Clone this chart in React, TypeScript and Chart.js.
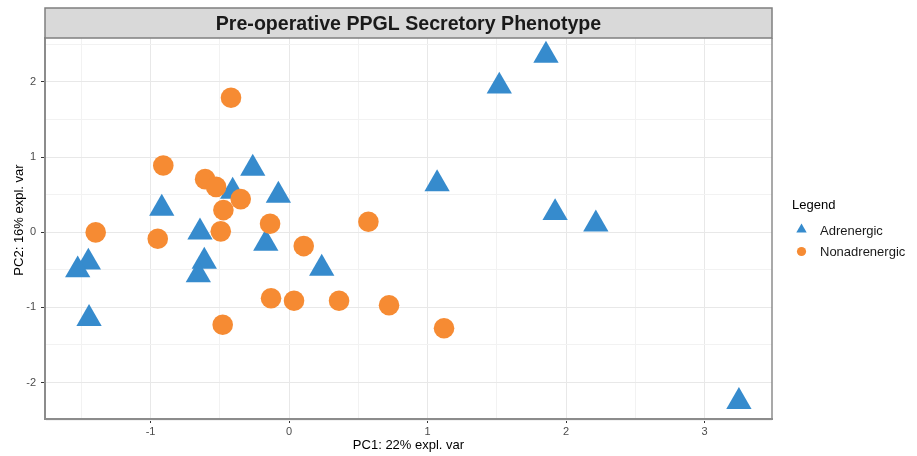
import React, { useEffect, useRef } from 'react';
import { Chart, registerables } from 'chart.js';

Chart.register(...registerables);

const titleText = 'Pre-operative PPGL Secretory Phenotype';
const xTitle = 'PC1: 22% expl. var';
const yTitle = 'PC2: 16% expl. var';
const legendTitle = 'Legend';
const seriesNames = ['Adrenergic', 'Nonadrenergic'];
const seriesColors = ['#368BCD', '#F68B33'];

const adrenergicPC1 = [1.855, 1.518, 1.069, 1.921, 2.215, 3.248, -0.262, -0.407, -0.077, -0.919, -0.643, -0.168, -0.612, -0.655, 0.236, -1.449, -1.526, -1.444];
const adrenergicPC2 = [2.353, 1.941, 0.642, 0.258, 0.107, -2.255, 0.848, 0.542, 0.489, 0.316, 0.001, -0.149, -0.388, -0.57, -0.481, -0.401, -0.503, -1.151];

const nonadrenergicPC1 = [-0.419, -0.908, -0.606, -0.527, -0.349, -0.474, -1.396, -0.948, -0.493, -0.137, 0.573, 0.106, -0.13, 0.036, 0.361, 0.722, -0.479, 1.119];
const nonadrenergicPC2 = [1.789, 0.888, 0.706, 0.603, 0.44, 0.294, -0.003, -0.088, 0.011, 0.112, 0.138, -0.185, -0.88, -0.912, -0.912, -0.973, -1.231, -1.279];

const xMajorTicks = [-1, 0, 1, 2, 3];
const xMinorTicks = [-1.5, -0.5, 0.5, 1.5, 2.5];
const yMajorTicks = [-2, -1, 0, 1, 2];
const yMinorTicks = [-2.5, -1.5, -0.5, 0.5, 1.5, 2.5];

const xRange = [-1.762, 3.487];
const yRange = [-2.486, 2.584];

const FONT = '"Liberation Sans", Arial, sans-serif';

const isMajor = (v: number, majors: number[]) => majors.some((m) => Math.abs(m - v) < 1e-9);

const decorPlugin = {
  id: 'decor',
  afterDraw(chart: any) {
    const { ctx, chartArea } = chart;
    const { left, right, top, bottom } = chartArea;
    ctx.save();
    // right border of panel
    ctx.strokeStyle = '#8C8C8C';
    ctx.lineWidth = 1.5;
    ctx.beginPath();
    ctx.moveTo(right, top);
    ctx.lineTo(right, bottom + 1);
    ctx.stroke();
    // strip
    const stripTop = 8;
    ctx.fillStyle = '#D9D9D9';
    ctx.fillRect(left, stripTop, right - left, top - stripTop);
    ctx.strokeStyle = '#7F7F7F';
    ctx.lineWidth = 1.5;
    ctx.strokeRect(left, stripTop, right - left, top - stripTop);
    ctx.fillStyle = '#1A1A1A';
    ctx.font = `bold 19.6px ${FONT}`;
    ctx.textAlign = 'center';
    ctx.textBaseline = 'middle';
    ctx.fillText(titleText, (left + right) / 2, (stripTop + top) / 2 + 1.5);

    // axis titles
    ctx.font = `13px ${FONT}`;
    ctx.fillStyle = '#000000';
    ctx.fillText(xTitle, (left + right) / 2, 445);
    ctx.save();
    ctx.translate(19.5, 220);
    ctx.rotate(-Math.PI / 2);
    ctx.fillText(yTitle, 0, 0);
    ctx.restore();

    // legend
    ctx.textAlign = 'left';
    ctx.font = `13px ${FONT}`;
    ctx.fillStyle = '#000000';
    ctx.fillText(legendTitle, 792, 205);
    const kx = 801.5;
    // triangle key
    ctx.fillStyle = seriesColors[0];
    const r = 6;
    const cy1 = 229.5;
    ctx.beginPath();
    ctx.moveTo(kx, cy1 - r);
    ctx.lineTo(kx + r * Math.sin((2 * Math.PI) / 3), cy1 - r * Math.cos((2 * Math.PI) / 3));
    ctx.lineTo(kx + r * Math.sin((4 * Math.PI) / 3), cy1 - r * Math.cos((4 * Math.PI) / 3));
    ctx.closePath();
    ctx.fill();
    // circle key
    ctx.fillStyle = seriesColors[1];
    ctx.beginPath();
    ctx.arc(kx, 251.5, 4.6, 0, Math.PI * 2);
    ctx.fill();
    ctx.fillStyle = '#1A1A1A';
    ctx.font = `13px ${FONT}`;
    ctx.fillText(seriesNames[0], 820, 231);
    ctx.fillText(seriesNames[1], 820, 252);
    ctx.restore();
  },
};

export default function App() {
  const canvasRef = useRef<HTMLCanvasElement | null>(null);

  useEffect(() => {
    document.body.style.margin = '0';
    const canvas = canvasRef.current;
    if (!canvas) return;

    const adrenergic = adrenergicPC1.map((x, i) => ({ x, y: adrenergicPC2[i] }));
    const nonadrenergic = nonadrenergicPC1.map((x, i) => ({ x, y: nonadrenergicPC2[i] }));

    const chart = new Chart(canvas, {
      type: 'scatter',
      data: {
        datasets: [
          {
            label: seriesNames[0],
            data: adrenergic,
            pointStyle: 'triangle',
            pointRadius: 14.6,
            pointHoverRadius: 14.6,
            backgroundColor: seriesColors[0],
            borderColor: seriesColors[0],
            borderWidth: 0,
            order: 2,
          },
          {
            label: seriesNames[1],
            data: nonadrenergic,
            pointStyle: 'circle',
            pointRadius: 10.3,
            pointHoverRadius: 10.3,
            backgroundColor: seriesColors[1],
            borderColor: seriesColors[1],
            borderWidth: 0,
            order: 1,
          },
        ],
      },
      options: {
        responsive: false,
        animation: false,
        devicePixelRatio: 1,
        layout: { padding: { top: 38, right: 145, left: 0, bottom: 0 } },
        plugins: {
          legend: { display: false },
          title: { display: false },
          tooltip: { enabled: false },
        },
        scales: {
          x: {
            type: 'linear',
            min: xRange[0],
            max: xRange[1],
            afterBuildTicks: (s: any) => {
              s.ticks = [...xMajorTicks, ...xMinorTicks].sort((a, b) => a - b).map((v) => ({ value: v }));
            },
            afterFit: (s: any) => {
              s.height = 37;
            },
            ticks: {
              autoSkip: false,
              maxRotation: 0,
              padding: 2,
              color: '#4D4D4D',
              font: { family: FONT, size: 11 },
              callback: (v: any) => (isMajor(Number(v), xMajorTicks) ? String(v) : ''),
            },
            grid: {
              color: (c: any) => (isMajor(c.tick?.value, xMajorTicks) ? '#E8E8E8' : '#F2F2F2'),
              lineWidth: 1,
              tickColor: (c: any) => (isMajor(c.tick?.value, xMajorTicks) ? '#333333' : 'rgba(0,0,0,0)'),
              tickLength: 4,
              drawTicks: true,
            },
            border: { display: true, color: '#8C8C8C', width: 2 },
          },
          y: {
            type: 'linear',
            min: yRange[0],
            max: yRange[1],
            afterBuildTicks: (s: any) => {
              s.ticks = [...yMajorTicks, ...yMinorTicks].sort((a, b) => a - b).map((v) => ({ value: v }));
            },
            afterFit: (s: any) => {
              s.width = 45;
            },
            ticks: {
              autoSkip: false,
              padding: 5,
              color: '#4D4D4D',
              font: { family: FONT, size: 11 },
              callback: (v: any) => (isMajor(Number(v), yMajorTicks) ? String(v) : ''),
            },
            grid: {
              color: (c: any) => (isMajor(c.tick?.value, yMajorTicks) ? '#E8E8E8' : '#F2F2F2'),
              lineWidth: 1,
              tickColor: (c: any) => (isMajor(c.tick?.value, yMajorTicks) ? '#333333' : 'rgba(0,0,0,0)'),
              tickLength: 4,
              drawTicks: true,
            },
            border: { display: true, color: '#8C8C8C', width: 2 },
          },
        },
      },
      plugins: [decorPlugin],
    });

    return () => {
      chart.destroy();
    };
  }, []);

  return (
    <div style={{ width: 917, height: 456, background: '#ffffff' }}>
      <canvas ref={canvasRef} width={917} height={456} style={{ display: 'block' }} />
    </div>
  );
}
